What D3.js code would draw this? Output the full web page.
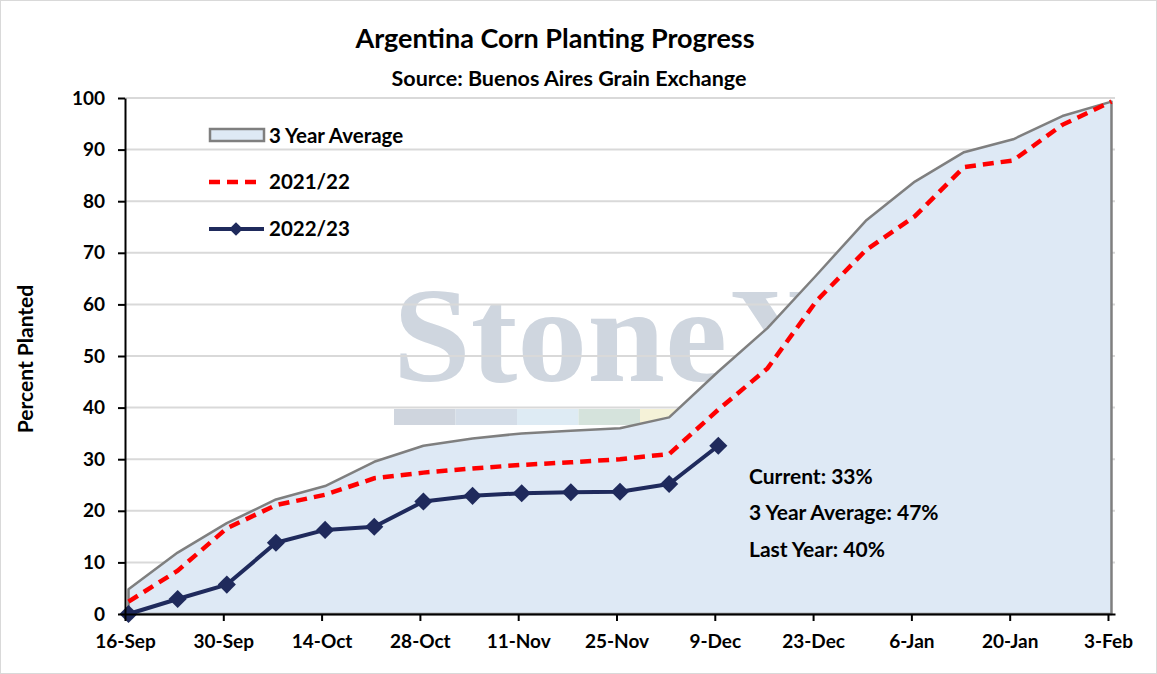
<!DOCTYPE html>
<html>
<head>
<meta charset="utf-8">
<script src="https://cdn.jsdelivr.net/npm/d3@7"></script>
<style>
  body { margin: 0; background: #fff; }
  svg { display: block; font-family: Lato, "Open Sans", sans-serif; font-weight: bold; }
</style>
</head>
<body>
<div id="chart"></div>
<script>
// weekly report dates (Buenos Aires Grain Exchange)
var dates = ["2022-09-16","2022-09-23","2022-09-30","2022-10-07","2022-10-14","2022-10-21",
  "2022-10-28","2022-11-04","2022-11-11","2022-11-18","2022-11-25","2022-12-02","2022-12-09",
  "2022-12-16","2022-12-23","2022-12-30","2023-01-06","2023-01-13","2023-01-20","2023-01-27","2023-02-03"];

var avg3yr = [4.8, 11.9, 17.6, 22.2, 24.8, 29.5, 32.6, 34.0, 35.0, 35.5, 36.0, 38.1, 47.0,
  55.4, 65.7, 76.2, 83.8, 89.5, 92.0, 96.5, 99.3];
var y2021 = [2.4, 8.4, 16.6, 21.1, 23.1, 26.3, 27.4, 28.2, 28.9, 29.4, 30.0, 31.0, 39.6,
  47.6, 60.7, 70.5, 77.1, 86.6, 87.9, 94.8, 99.3];
var y2022 = [0, 2.9, 5.7, 13.8, 16.3, 16.9, 21.8, 22.9, 23.4, 23.6, 23.7, 25.2, 32.6];

var yTicks = [0, 10, 20, 30, 40, 50, 60, 70, 80, 90, 100];
var notes = ["Current: 33%", "3 Year Average: 47%", "Last Year: 40%"];

var W = 1157, H = 674;
var parse = d3.utcParse("%Y-%m-%d");
// points sit in the middle of their day, like an Excel date axis
var pts = dates.map(function(d) { return d3.utcHour.offset(parse(d), 12); });

var svg = d3.select("#chart").append("svg").attr("width", W).attr("height", H);

svg.append("rect").attr("x", 0.5).attr("y", 0.5).attr("width", W - 1).attr("height", H - 1)
  .attr("fill", "#fff").attr("stroke", "#d9d9d9");

var x = d3.scaleUtc().domain([parse("2022-09-16"), parse("2023-02-04")]).range([125, 1115]);
var y = d3.scaleLinear().domain([0, 100]).range([614, 98]);

// watermark
var wm = svg.append("g");
wm.append("text").attr("x", 393).attr("y", 381)
  .attr("font-family", "'Liberation Serif', 'DejaVu Serif', serif").attr("font-weight", "bold")
  .attr("font-size", 136).attr("fill", "#cfd6df")
  .attr("textLength", 435).attr("lengthAdjust", "spacingAndGlyphs")
  .text("StoneX");
var bar = ["#cfd5de", "#d4dde8", "#deebf4", "#d5e3dc", "#f5f2d8"];
wm.selectAll("rect").data(bar).join("rect")
  .attr("x", function(d, i) { return 394 + i * 61.5; }).attr("y", 409)
  .attr("width", 61.5).attr("height", 16).attr("fill", function(d) { return d; });

// gridlines
svg.append("g").selectAll("line").data(yTicks.slice(1)).join("line")
  .attr("x1", 125).attr("x2", 1115)
  .attr("y1", function(d) { return y(d); }).attr("y2", function(d) { return y(d); })
  .attr("stroke", "#d9d9d9").attr("stroke-width", 2);

// 3 year average area
var area = d3.area().x(function(d, i) { return x(pts[i]); }).y0(y(0)).y1(function(d) { return y(d); });
svg.append("path").datum(avg3yr).attr("d", area)
  .attr("fill", "#dee9f5").attr("stroke", "#7f7f7f").attr("stroke-width", 2.5)
  .attr("stroke-linejoin", "round");

var line = d3.line().x(function(d, i) { return x(pts[i]); }).y(function(d) { return y(d); });

svg.append("path").datum(y2021).attr("d", line)
  .attr("fill", "none").attr("stroke", "#ff0000").attr("stroke-width", 4.5)
  .attr("stroke-dasharray", "11 7");

svg.append("path").datum(y2022).attr("d", line)
  .attr("fill", "none").attr("stroke", "#1f2a5c").attr("stroke-width", 4)
  .attr("stroke-linejoin", "round");

var diamond = d3.symbol().type(d3.symbolDiamond2).size(210);
svg.append("g").selectAll("path").data(y2022).join("path")
  .attr("d", diamond)
  .attr("transform", function(d, i) { return "translate(" + x(pts[i]) + "," + y(d) + ")"; })
  .attr("fill", "#1f2a5c");

// axes
var xTicks = d3.utcDay.range(parse("2022-09-16"), parse("2023-02-04"), 14);
var xAxis = svg.append("g").attr("transform", "translate(0," + y(0) + ")")
  .call(d3.axisBottom(x).tickValues(xTicks).tickFormat(d3.utcFormat("%-d-%b"))
    .tickSizeInner(7).tickSizeOuter(0).tickPadding(14));
var yAxis = svg.append("g").attr("transform", "translate(125,0)")
  .call(d3.axisLeft(y).tickValues(yTicks).tickSizeInner(7).tickSizeOuter(0).tickPadding(13));

[xAxis, yAxis].forEach(function(a) {
  a.select(".domain").attr("stroke", "#000").attr("stroke-width", 2);
  a.selectAll(".tick line").attr("stroke", "#000").attr("stroke-width", 2);
  a.selectAll(".tick text").attr("font-family", "Lato, sans-serif").attr("font-weight", "bold")
    .attr("font-size", 19).attr("fill", "#000");
});

// titles
svg.append("text").attr("x", 555).attr("y", 48).attr("text-anchor", "middle")
  .attr("font-size", 27).text("Argentina Corn Planting Progress");
svg.append("text").attr("x", 569).attr("y", 86).attr("text-anchor", "middle")
  .attr("font-size", 21.5).text("Source: Buenos Aires Grain Exchange");
svg.append("text").attr("transform", "translate(33,359) rotate(-90)").attr("text-anchor", "middle")
  .attr("font-size", 21).text("Percent Planted");

// legend
var lg = svg.append("g").attr("font-size", 20.5);
lg.append("rect").attr("x", 210).attr("y", 129).attr("width", 54).attr("height", 12)
  .attr("fill", "#dee9f5").attr("stroke", "#7f7f7f").attr("stroke-width", 2.5);
lg.append("text").attr("x", 269).attr("y", 143).text("3 Year Average");
lg.append("line").attr("x1", 209).attr("x2", 263).attr("y1", 182).attr("y2", 182)
  .attr("stroke", "#ff0000").attr("stroke-width", 4.5).attr("stroke-dasharray", "11 7");
lg.append("text").attr("x", 269).attr("y", 189).text("2021/22");
lg.append("line").attr("x1", 209).attr("x2", 264).attr("y1", 229).attr("y2", 229)
  .attr("stroke", "#1f2a5c").attr("stroke-width", 4);
lg.append("path").attr("d", d3.symbol().type(d3.symbolDiamond2).size(120))
  .attr("transform", "translate(236,229)").attr("fill", "#1f2a5c");
lg.append("text").attr("x", 269).attr("y", 236).text("2022/23");

// current status notes
svg.append("g").selectAll("text").data(notes).join("text")
  .attr("x", 749).attr("y", function(d, i) { return 484 + i * 36.3; })
  .attr("font-size", 21).text(function(d) { return d; });
</script>
</body>
</html>
